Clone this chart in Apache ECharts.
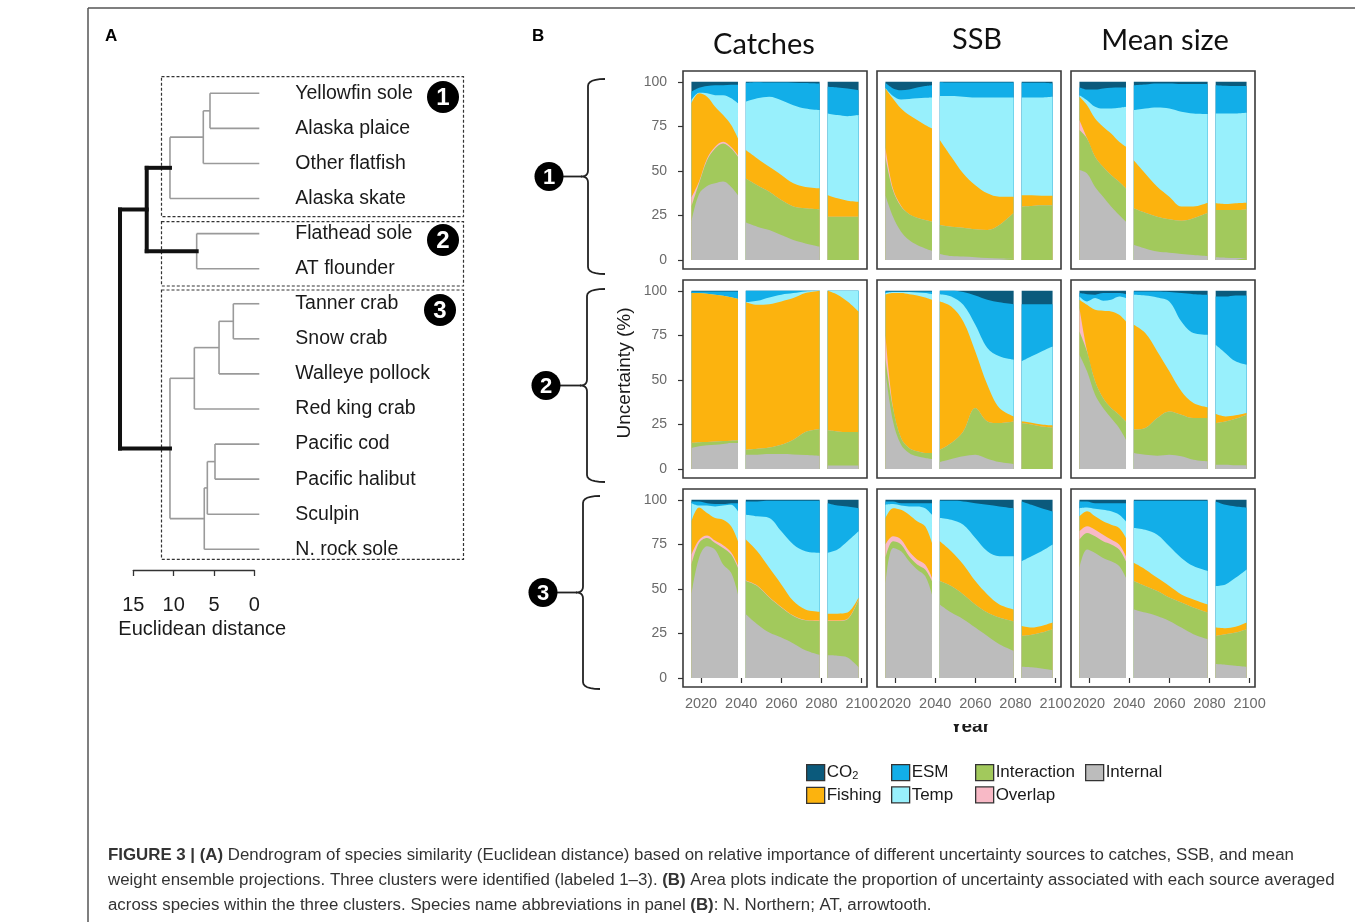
<!DOCTYPE html>
<html>
<head>
<meta charset="utf-8">
<script src="https://cdn.jsdelivr.net/npm/echarts@6/dist/echarts.min.js"></script>
<style>html,body{margin:0;padding:0;background:#fff}#c{width:1355px;height:922px}</style>
</head>
<body>
<div id="c"></div>
<script>
// ---------- DATA ----------
// x positions (years) of the sampled points; three projection periods
const YEARS = [2015.2, 2019, 2023, 2027, 2031, 2035, 2038.4, 2042.3, 2048, 2054, 2060, 2066, 2072, 2079.1, 2083.1, 2088, 2093, 2098.5];
const SEGMENTS = [[0, 7], [7, 14], [14, 18]];
const TOTAL = [100,100,100,100,100,100,100,100,100,100,100,100,100,100,100,100,100,100];

// Upper edge (cumulative %) of each uncertainty band
// Cluster 1 – Catches
const CATCH1_INTERNAL    = [21.5, 37, 41.5, 43, 44, 41, 36.4, 21, 18.7, 16.8, 14, 11.2, 9.3, 7.5, 0, 0, 0, 0];
const CATCH1_INTERACTION = [30, 43, 56, 62.6, 65.4, 62.6, 58, 45.8, 42, 38.3, 33.6, 30, 29, 28.4, 24.3, 24.3, 24.3, 24.3];
const CATCH1_OVERLAP     = [35, 44, 57, 63.6, 66.4, 63.4, 58.8, 45.8, 42, 38.3, 33.6, 30, 29, 28.4, 24.3, 24.3, 24.3, 24.3];
const CATCH1_FISHING     = [87.9, 93.5, 91.6, 86, 81.3, 75.7, 68.2, 61.7, 57, 52.3, 47.7, 43, 41, 40.2, 36.4, 34.6, 33.3, 32.7];
const CATCH1_TEMP        = [89.7, 93.8, 93.5, 92.5, 92.5, 90.7, 87.9, 88.8, 90.7, 91.6, 89.7, 86.9, 85, 84.1, 82.2, 81.3, 80.7, 81.3];
const CATCH1_ESM         = [94.4, 96.6, 97.6, 98, 98.1, 98.3, 98.3, 99.4, 99.8, 99.6, 99.6, 99.5, 99.3, 99, 97.2, 96.8, 96.3, 95.3];
// Cluster 1 – SSB
const SSB1_INTERNAL    = [36.4, 24.3, 15.9, 11.2, 8.4, 6.5, 5.2, 3.4, 2.2, 1.9, 1.5, 1.1, 0.9, 0.7, 0, 0, 0, 0];
const SSB1_INTERACTION = [58, 39, 30, 25.8, 23.7, 22.4, 21.5, 19.6, 18.7, 18.1, 17.2, 16.8, 19.6, 26.5, 30, 30.3, 30.7, 30.7];
const SSB1_OVERLAP     = [63, 40, 30.5, 25.8, 23.7, 22.4, 21.5, 19.6, 18.7, 18.1, 17.2, 16.8, 19.6, 26.5, 30, 30.3, 30.7, 30.7];
const SSB1_FISHING     = [96.3, 90.5, 85, 81.3, 78.5, 75.7, 73.8, 67.3, 58, 48.6, 42, 37.4, 35.5, 35.5, 36.4, 36.3, 36.1, 36.1];
const SSB1_TEMP        = [96.5, 92, 90, 90.3, 90.7, 91, 91.2, 92, 92, 91.6, 91.2, 91.2, 91.2, 91.2, 91.2, 91.2, 91.2, 91.6];
const SSB1_ESM         = [99.4, 96.3, 95.3, 95.7, 96.8, 97.6, 98.1, 99.8, 99.6, 99.6, 99.6, 99.6, 99.6, 99.6, 99.4, 99.4, 99.4, 99];
// Cluster 1 – Mean size
const MEAN1_INTERNAL    = [50.5, 48.6, 41, 35.5, 30, 25.2, 21.5, 8.4, 6.5, 4.7, 4.1, 3.4, 2.8, 2.2, 1.5, 1.3, 1.1, 1.1];
const MEAN1_INTERACTION = [72.9, 68.2, 58, 52.3, 47.7, 43.9, 40.2, 29, 26.5, 24.3, 22.8, 22, 23.4, 26.5, 28, 28, 28, 28.4];
const MEAN1_OVERLAP     = [78.5, 68.4, 58, 52.3, 47.7, 43.9, 40.2, 29, 26.5, 24.3, 22.8, 22, 23.4, 26.5, 28, 28, 28, 28.4];
const MEAN1_FISHING     = [91.6, 86.9, 79.4, 74.8, 71, 66.4, 63.6, 56, 48.6, 41.1, 35.5, 30, 30, 32.1, 31.8, 31.4, 31.8, 32.1];
const MEAN1_TEMP        = [92.5, 89.7, 86, 85, 85, 85.4, 86, 84.1, 85, 85.6, 85, 83.2, 82.2, 81.9, 82.2, 82.2, 82.2, 82.6];
const MEAN1_ESM         = [96.8, 95.7, 95.7, 96.3, 96.6, 96.8, 96.8, 98.1, 98.5, 99, 99, 98.7, 98.7, 98.7, 98.1, 97.8, 97.6, 97.6];
// Cluster 2 – Catches
const CATCH2_INTERNAL    = [11.8, 12.7, 13.3, 13.6, 14, 14.6, 14.6, 8, 8, 8.4, 8.4, 8.2, 7.9, 7.5, 2, 1.9, 1.9, 1.9];
const CATCH2_INTERACTION = [14.6, 15, 15.1, 15.5, 15.7, 15.9, 16.1, 10.8, 11.4, 12.1, 13.6, 16.4, 20.7, 22.4, 21.7, 21.1, 20.7, 20.7];
const CATCH2_OVERLAP     = [14.6, 15, 15.1, 15.5, 15.7, 15.9, 16.1, 10.8, 11.4, 12.1, 13.6, 16.4, 20.7, 22.4, 21.7, 21.1, 20.7, 20.7];
const CATCH2_FISHING     = [98.7, 98.7, 98.3, 97.8, 97.2, 96.4, 95.5, 93.6, 92.1, 92.5, 94, 95.9, 98.7, 100, 100, 97.8, 94, 88.4];
const CATCH2_TEMP        = [98.7, 98.7, 98.3, 97.8, 97.2, 96.4, 95.5, 93.6, 94.4, 96.3, 97.8, 98.7, 99.6, 100, 100, 100, 100, 100];
const CATCH2_ESM         = [99.6, 99.6, 99.6, 99.6, 99.6, 99.6, 99.6, 100, 100, 100, 100, 100, 100, 100, 100, 100, 100, 100];
// Cluster 2 – SSB
const SSB2_INTERNAL    = [54.8, 26.7, 13.6, 9, 7.1, 6.2, 5.6, 3.9, 5.6, 7.1, 8, 5.8, 3.9, 2.8, 0, 0, 0, 0];
const SSB2_INTERACTION = [62.2, 34.2, 17.4, 11.8, 9.9, 9, 9, 10.8, 14.6, 21.1, 34.2, 26.7, 25.8, 26.7, 25.8, 24.9, 23.9, 23.4];
const SSB2_OVERLAP     = [75, 34.5, 17.4, 11.8, 9.9, 9, 9, 10.8, 14.6, 21.1, 34.2, 26.7, 25.8, 26.7, 25.8, 24.9, 23.9, 23.4];
const SSB2_FISHING     = [97.8, 98.7, 98.7, 98.1, 97.4, 96.3, 95, 94, 91.2, 82.8, 66, 47.3, 34.2, 29.5, 26.8, 25.9, 24.9, 24.4];
const SSB2_TEMP        = [98.7, 99.3, 99.3, 99.3, 99, 98.7, 98.1, 98.1, 96.8, 92.1, 80.9, 67.9, 63.2, 61.3, 60.4, 63.2, 66, 68.8];
const SSB2_ESM         = [99.6, 99.6, 99.6, 99.6, 99.6, 99.6, 99.6, 100, 100, 99.3, 97.4, 95, 93.6, 92.5, 92.5, 92.5, 92.5, 92.5];
// Cluster 2 – Mean size
const MEAN2_INTERNAL    = [64.1, 54.8, 41.7, 34.2, 28.6, 23, 16.4, 9, 8, 7.5, 8, 7.1, 5.2, 4.3, 2.4, 2.4, 2.1, 2.1];
const MEAN2_INTERACTION = [77.2, 66, 49.2, 39.8, 34.2, 30.5, 26.7, 22.1, 23, 28.6, 32.3, 30.5, 28.6, 28.6, 25.8, 26.7, 28.2, 30.5];
const MEAN2_OVERLAP     = [90.3, 66.3, 49.2, 39.8, 34.2, 30.5, 26.7, 22.1, 23, 28.6, 32.3, 30.5, 28.6, 28.6, 25.8, 26.7, 28.2, 30.5];
const MEAN2_FISHING     = [95, 92.1, 89.3, 88.8, 88.4, 86.5, 82.8, 80.9, 76.3, 66, 54.8, 43.6, 37, 34.6, 30.8, 29.5, 30.1, 31.4];
const MEAN2_TEMP        = [96.8, 94, 95.9, 94.4, 95, 96.8, 95.9, 97.8, 97.4, 96.3, 94, 82.8, 76.3, 75.3, 69.7, 65, 60.4, 58.5];
const MEAN2_ESM         = [98.7, 98.1, 97.8, 98.7, 98.7, 98.7, 98.1, 99.6, 99.6, 99.6, 99.3, 98.7, 98.1, 97.8, 96.8, 96.8, 97.4, 97.4];
// Cluster 3 – Catches
const CATCH3_INTERNAL    = [46.9, 67.4, 73.9, 72, 63.7, 59, 46.9, 35.8, 30.2, 25.5, 22.7, 19.4, 15.6, 13, 12.7, 12.5, 11.5, 6];
const CATCH3_INTERACTION = [63.7, 75.8, 78.6, 75.8, 73, 69.3, 61.8, 54.4, 51.6, 45.1, 39.5, 34.8, 32.4, 32, 32, 32, 33, 44.1];
const CATCH3_OVERLAP     = [69.3, 77.5, 80, 77.1, 74.5, 70.6, 63.2, 54.7, 51.9, 45.4, 39.8, 35, 32.6, 32.2, 32.2, 32.2, 33.2, 44.3];
const CATCH3_FISHING     = [87.9, 95.7, 92.6, 89.8, 88.8, 85.1, 76.7, 77.7, 71.1, 61.8, 52.5, 43.2, 38.5, 37.2, 36.1, 36.1, 36.7, 45.1];
const CATCH3_TEMP        = [98.1, 96.8, 96.8, 96.3, 96.8, 97.2, 93.5, 91.6, 90.7, 89.8, 82.3, 74.9, 71.1, 70.2, 70.2, 72.1, 76.7, 82.3];
const CATCH3_ESM         = [99.1, 99.1, 98.1, 97.6, 97.6, 98.1, 98.1, 99.1, 99.1, 99.4, 99.4, 99.4, 99.4, 99.4, 98.1, 96.8, 96.3, 95.3];
// Cluster 3 – SSB
const SSB3_INTERNAL    = [52.5, 73, 71.1, 65.5, 60.9, 57.2, 46.9, 41.3, 36.7, 33, 28.3, 23.6, 19, 15.3, 6.3, 6, 5.4, 4.5];
const SSB3_INTERACTION = [67.4, 76.7, 74.9, 68.3, 63.7, 60.9, 54.4, 54.4, 51.6, 46.9, 41.3, 36.7, 33.9, 31.7, 23.6, 24.2, 25.5, 27.4];
const SSB3_OVERLAP     = [74.9, 79.5, 77.7, 71.1, 66.5, 63.7, 56.3, 54.4, 51.6, 46.9, 41.3, 36.7, 33.9, 31.7, 23.6, 24.2, 25.5, 27.4];
const SSB3_FISHING     = [89.8, 95.3, 94.4, 91.6, 87.9, 85.1, 75.8, 76.7, 71.1, 63.7, 54.4, 46.9, 41.3, 38.5, 29.2, 28.3, 29.2, 31.1];
const SSB3_TEMP        = [97.2, 97.6, 96.8, 96.3, 96.3, 95.3, 91.6, 89.8, 88.8, 86, 78.6, 71.1, 68.3, 68.3, 65.5, 68.3, 71.1, 74.9];
const SSB3_ESM         = [99.1, 99.1, 98.1, 98.1, 98.1, 98.1, 98.1, 99.4, 99.4, 99.1, 98.1, 97.2, 96.3, 95.3, 99.1, 97.2, 95.3, 93.5];
// Cluster 3 – Mean size
const MEAN3_INTERNAL    = [61.8, 72.1, 70.2, 67.4, 65.5, 62.8, 56.2, 38.5, 36.7, 34.8, 32, 28.3, 24.6, 21.8, 7.8, 7.4, 6.9, 6.3];
const MEAN3_INTERACTION = [77.7, 81.4, 79.5, 76.7, 74.9, 72.1, 65.5, 54.4, 51.6, 48.8, 45.1, 42.3, 39.5, 36.7, 23.6, 24.6, 25.5, 27.4];
const MEAN3_OVERLAP     = [82.3, 85.1, 83.2, 80.4, 77.7, 74.9, 68.3, 54.4, 51.6, 48.8, 45.1, 42.3, 39.5, 36.7, 23.6, 24.6, 25.5, 27.4];
const MEAN3_FISHING     = [90.7, 93.5, 90.7, 87.9, 86, 84.2, 78.6, 64.6, 60.9, 56.2, 51.6, 46.9, 44.1, 41.3, 28.3, 27.9, 28.7, 31.1];
const MEAN3_TEMP        = [95.3, 95.7, 94.9, 94.4, 93.5, 91.6, 87.9, 84.2, 83.2, 80.4, 73.9, 67.4, 62.8, 60, 51.6, 52.5, 56.2, 60.9];
const MEAN3_ESM         = [99.1, 99.1, 98.1, 98.1, 98.1, 98.1, 98.1, 99.4, 99.4, 99.4, 99.4, 99.4, 99.4, 99.4, 99.1, 97.2, 96.3, 95.7];

const COLUMN_TITLES = ['Catches', 'SSB', 'Mean size'];
const X_TICKS = [2020, 2040, 2060, 2080, 2100];
const Y_TICKS = [0, 25, 50, 75, 100];

// Dendrogram (panel A)
const LEAVES = ['Yellowfin sole', 'Alaska plaice', 'Other flatfish', 'Alaska skate', 'Flathead sole', 'AT flounder',
  'Tanner crab', 'Snow crab', 'Walleye pollock', 'Red king crab', 'Pacific cod', 'Pacific halibut', 'Sculpin', 'N. rock sole'];
// merge k joins MERGE_A[k] and MERGE_B[k] (ids < 14 are leaves, id 14+k is merge k) at MERGE_HEIGHT[k]
const MERGE_A = [0, 14, 15, 4, 16, 6, 19, 20, 10, 22, 23, 21, 18];
const MERGE_B = [1, 2, 3, 5, 17, 7, 8, 9, 11, 12, 13, 24, 25];
const MERGE_HEIGHT = [6.11, 6.94, 11.07, 7.76, 13.95, 3.22, 4.99, 8.05, 5.49, 6.44, 6.82, 11.07, 17.26];
const THICK_NODES = [18, 26];

// ---------- BUILD ----------
const FONT = '"Liberation Sans", Arial, Helvetica, sans-serif';
const LAYERS = [
  { name: 'CO2', color: '#0b5a7c' },
  { name: 'ESM', color: '#12aee8' },
  { name: 'Temp', color: '#98f0fc' },
  { name: 'Fishing', color: '#fcb30e' },
  { name: 'Overlap', color: '#f8b9c6' },
  { name: 'Interaction', color: '#a2c95c' },
  { name: 'Internal', color: '#bcbcbc' }
];
const PANELS = [
  [TOTAL, CATCH1_ESM, CATCH1_TEMP, CATCH1_FISHING, CATCH1_OVERLAP, CATCH1_INTERACTION, CATCH1_INTERNAL],
  [TOTAL, SSB1_ESM, SSB1_TEMP, SSB1_FISHING, SSB1_OVERLAP, SSB1_INTERACTION, SSB1_INTERNAL],
  [TOTAL, MEAN1_ESM, MEAN1_TEMP, MEAN1_FISHING, MEAN1_OVERLAP, MEAN1_INTERACTION, MEAN1_INTERNAL],
  [TOTAL, CATCH2_ESM, CATCH2_TEMP, CATCH2_FISHING, CATCH2_OVERLAP, CATCH2_INTERACTION, CATCH2_INTERNAL],
  [TOTAL, SSB2_ESM, SSB2_TEMP, SSB2_FISHING, SSB2_OVERLAP, SSB2_INTERACTION, SSB2_INTERNAL],
  [TOTAL, MEAN2_ESM, MEAN2_TEMP, MEAN2_FISHING, MEAN2_OVERLAP, MEAN2_INTERACTION, MEAN2_INTERNAL],
  [TOTAL, CATCH3_ESM, CATCH3_TEMP, CATCH3_FISHING, CATCH3_OVERLAP, CATCH3_INTERACTION, CATCH3_INTERNAL],
  [TOTAL, SSB3_ESM, SSB3_TEMP, SSB3_FISHING, SSB3_OVERLAP, SSB3_INTERACTION, SSB3_INTERNAL],
  [TOTAL, MEAN3_ESM, MEAN3_TEMP, MEAN3_FISHING, MEAN3_OVERLAP, MEAN3_INTERACTION, MEAN3_INTERNAL]
];

function toData(values) {
  const out = [];
  SEGMENTS.forEach(function (s, k) {
    if (k > 0) out.push([(YEARS[s[0] - 1] + YEARS[s[0]]) / 2, '-']);
    for (let i = s[0]; i < s[1]; i++) out.push([YEARS[i], values[i]]);
  });
  return out;
}

const COL_LEFT = [683, 877, 1071];
const ROW_TOP = [71, 280, 489];
const PW = 184, PH = 198;

const grids = [], xAxes = [], yAxes = [], series = [];
for (let p = 0; p < 9; p++) {
  const r = Math.floor(p / 3), c = p % 3;
  grids.push({ left: COL_LEFT[c], top: ROW_TOP[r], width: PW, height: PH, show: true,
    borderColor: '#3a3a3a', borderWidth: 1.6, backgroundColor: '#fff', containLabel: false });
  const bottom = r === 2, left = c === 0;
  xAxes.push({ gridIndex: p, type: 'value', min: 2011, max: 2102.7,
    axisLine: { show: false }, splitLine: { show: false },
    axisTick: { show: bottom, length: 5, lineStyle: { color: '#333', width: 1.2 }, customValues: X_TICKS },
    axisLabel: { show: bottom, customValues: X_TICKS, color: '#6a6a6a', fontSize: 14.5, fontFamily: FONT, margin: 9,
      formatter: function (v) { return String(v); } } });
  yAxes.push({ gridIndex: p, type: 'value', min: -5.05, max: 106.05,
    axisLine: { show: false }, splitLine: { show: false },
    axisTick: { show: left, length: 5, lineStyle: { color: '#333', width: 1.2 }, customValues: Y_TICKS },
    axisLabel: { show: left, customValues: Y_TICKS, color: '#6a6a6a', fontSize: 14, fontFamily: FONT, margin: 16 } });
  LAYERS.forEach(function (L, li) {
    series.push({ type: 'line', name: L.name, xAxisIndex: p, yAxisIndex: p,
      data: toData(PANELS[p][li]), smooth: 0.35, symbol: 'none', connectNulls: false,
      color: L.color, lineStyle: { width: 0, color: L.color },
      areaStyle: { color: L.color, opacity: 1 }, silent: true, z: 2 });
  });
}

// dendrogram grid (index 9) and distance scale grid (index 10)
grids.push({ left: 97.9, top: 75.75, width: 161.4, height: 491.1 });
xAxes.push({ gridIndex: 9, type: 'value', min: 0, max: 20, inverse: true, show: false });
yAxes.push({ gridIndex: 9, type: 'category', data: LEAVES, inverse: true, position: 'right',
  axisLine: { show: false }, axisTick: { show: false }, splitLine: { show: false },
  axisLabel: { margin: 36, color: '#1a1a1a', fontSize: 19.5, fontFamily: FONT, align: 'left', padding: [5, 0, 0, 0] } });
grids.push({ left: 133.3, top: 560, width: 121, height: 10 });
xAxes.push({ gridIndex: 10, type: 'value', min: 0, max: 15, interval: 5, inverse: true, position: 'bottom',
  axisLine: { show: true, lineStyle: { color: '#333', width: 1.3 } },
  axisTick: { show: true, length: 6, lineStyle: { color: '#333', width: 1.3 } },
  axisLabel: { color: '#1a1a1a', fontSize: 20, fontFamily: FONT, margin: 25 },
  splitLine: { show: false },
  name: 'Euclidean distance', nameLocation: 'middle', nameGap: 49,
  nameTextStyle: { color: '#1a1a1a', fontSize: 20, fontFamily: FONT, padding: [0, 0, 0, 17] } });
yAxes.push({ gridIndex: 10, type: 'value', show: false, min: 0, max: 1 });

series.push({
  type: 'custom', coordinateSystem: 'cartesian2d', xAxisIndex: 9, yAxisIndex: 9, silent: true,
  data: [[0, 0]],
  renderItem: function (params, api) {
    const pos = {};
    for (let i = 0; i < LEAVES.length; i++) pos[i] = api.coord([0, i]);
    const thin = [], thick = [];
    for (let k = 0; k < MERGE_A.length; k++) {
      const a = pos[MERGE_A[k]], b = pos[MERGE_B[k]];
      const x = api.coord([MERGE_HEIGHT[k], 0])[0];
      const id = LEAVES.length + k;
      pos[id] = [x, (a[1] + b[1]) / 2];
      const bucket = THICK_NODES.indexOf(id) >= 0 ? thick : thin;
      bucket.push([a[0], a[1], x, a[1]], [b[0], b[1], x, b[1]], [x, a[1], x, b[1]]);
    }
    const mk = function (s, color, w) {
      return { type: 'line', shape: { x1: s[0], y1: s[1], x2: s[2], y2: s[3] },
        style: { stroke: color, lineWidth: w, lineCap: w > 2 ? 'square' : 'butt' } };
    };
    return { type: 'group', children: thin.map(s => mk(s, '#9a9a9a', 1.6)).concat(thick.map(s => mk(s, '#111', 4))) };
  }
});

// ---------- annotations ----------
const graphics = [];
graphics.push({ type: 'line', shape: { x1: 88, y1: 8, x2: 1355, y2: 8 }, style: { stroke: '#555', lineWidth: 1.5 } });
graphics.push({ type: 'line', shape: { x1: 88, y1: 8, x2: 88, y2: 922 }, style: { stroke: '#555', lineWidth: 1.5 } });
function txt(x, y, text, opts) {
  return Object.assign({ type: 'text', x: x, y: y, z: 50,
    style: Object.assign({ text: text, fontFamily: FONT, fontSize: 16, fill: '#1a1a1a',
      align: 'left', verticalAlign: 'middle', textAlign: 'left', textVerticalAlign: 'middle' }, opts || {}) });
}
graphics.push(txt(105, 36, 'A', { fontWeight: 'bold', fontSize: 17, fill: '#000' }));
graphics.push(txt(532, 36, 'B', { fontWeight: 'bold', fontSize: 17, fill: '#000' }));
// dashed cluster boxes
[[76.7, 216.7], [221.7, 286], [290, 559.3]].forEach(function (b) {
  graphics.push({ type: 'rect', shape: { x: 161.5, y: b[0], width: 302, height: b[1] - b[0] },
    style: { fill: 'none', stroke: '#333', lineWidth: 1.2, lineDash: [3, 2] } });
});
function badge(cx, cy, r, label, fs) {
  graphics.push({ type: 'circle', shape: { cx: cx, cy: cy, r: r }, style: { fill: '#000' }, z: 40 });
  graphics.push(txt(cx, cy + 1, label, { fill: '#fff', fontWeight: 'bold', fontSize: fs,
    align: 'center', textAlign: 'center' }));
}
badge(443, 97, 16, '1', 24);
badge(443, 240, 16, '2', 24);
badge(440, 310, 16, '3', 24);
// brackets in panel B (curly braces built from sampled quadratic curves)
function quad(p0, p1, p2) {
  const pts = [];
  for (let i = 0; i <= 6; i++) {
    const t = i / 6, u = 1 - t;
    pts.push([u * u * p0[0] + 2 * u * t * p1[0] + t * t * p2[0], u * u * p0[1] + 2 * u * t * p1[1] + t * t * p2[1]]);
  }
  return pts;
}
[[588, 79, 274, 605, 549], [587, 289, 482, 605, 546], [583, 496, 689, 600, 543]].forEach(function (b, i) {
  const x = b[0], t = b[1], bt = b[2], e = b[3], m = (t + bt) / 2;
  const pts = [].concat(
    quad([e, t], [x, t], [x, t + 7]),
    quad([x, m - 6], [x, m], [x - 7, m]),
    quad([x - 7, m], [x, m], [x, m + 6]),
    quad([x, bt - 7], [x, bt], [e, bt]));
  graphics.push({ type: 'polyline', shape: { points: pts }, style: { fill: 'none', stroke: '#222', lineWidth: 1.8 } });
  graphics.push({ type: 'line', shape: { x1: b[4] + 12, y1: m, x2: x - 6, y2: m }, style: { stroke: '#222', lineWidth: 1.8 } });
  badge(b[4], m, 14.5, String(i + 1), 22);
});
// y-axis title
graphics.push({ type: 'text', x: 625, y: 373, rotation: Math.PI / 2, z: 50,
  style: { text: 'Uncertainty (%)', fontFamily: FONT, fontSize: 19, fill: '#1a1a1a',
    align: 'center', verticalAlign: 'middle', textAlign: 'center', textVerticalAlign: 'middle' } });
// x-axis title (partly hidden in the source figure)
graphics.push(txt(970, 727, 'Year', { fontSize: 19, fontWeight: 'bold', align: 'center', textAlign: 'center' }));
graphics.push({ type: 'rect', z: 60, shape: { x: 940, y: 713, width: 60, height: 11 }, style: { fill: '#fff' } });
// caption
const CAP_FS = 16.85;
const capRich = { b: { fontWeight: 'bold', fontFamily: FONT, fontSize: CAP_FS, fill: '#333' } };
[
  '{b|FIGURE 3 | (A)} Dendrogram of species similarity (Euclidean distance) based on relative importance of different uncertainty sources to catches, SSB, and mean',
  'weight ensemble projections. Three clusters were identified (labeled 1–3). {b|(B)} Area plots indicate the proportion of uncertainty associated with each source averaged',
  'across species within the three clusters. Species name abbreviations in panel {b|(B)}: N. Northern; AT, arrowtooth.'
].forEach(function (line, i) {
  graphics.push({ type: 'text', x: 108, y: 855 + i * 25, z: 50,
    style: { text: line, rich: capRich, fontFamily: FONT, fontSize: CAP_FS, fill: '#333',
      align: 'left', verticalAlign: 'middle', textAlign: 'left', textVerticalAlign: 'middle' } });
});

// legend (4 columns)
const legendBase = {
  orient: 'vertical', top: 764, padding: 0, itemWidth: 18, itemHeight: 16, itemGap: 5, icon: 'rect',
  selectedMode: false,
  itemStyle: { borderColor: '#333', borderWidth: 1.3 },
  textStyle: { color: '#1a1a1a', fontSize: 17, fontFamily: FONT, padding: [0, 0, 0, -3],
    rich: { a: { fontSize: 17, fontFamily: FONT, color: '#1a1a1a', lineHeight: 18 },
            s: { fontSize: 11, fontFamily: FONT, color: '#1a1a1a', lineHeight: 18, verticalAlign: 'bottom' } } },
  formatter: function (n) { return n === 'CO2' ? '{a|CO}{s|2}' : n; }
};
const legends = [
  Object.assign({}, legendBase, { left: 806, data: ['CO2', 'Fishing'] }),
  Object.assign({}, legendBase, { left: 891, data: ['ESM', 'Temp'] }),
  Object.assign({}, legendBase, { left: 975, data: ['Interaction', 'Overlap'] }),
  Object.assign({}, legendBase, { left: 1085, data: ['Internal'] })
];

const titleCenters = [[764, 30], [977, 25], [1165, 26]];
const titles = COLUMN_TITLES.map(function (t, i) {
  return { text: t, left: titleCenters[i][0], top: titleCenters[i][1], textAlign: 'center', padding: 0,
    textStyle: { fontFamily: 'Lato, "Open Sans", sans-serif', fontSize: 29, fontWeight: 'normal', color: '#111' } };
});

const chart = echarts.init(document.getElementById('c'), null, { renderer: 'canvas' });
chart.setOption({
  animation: false,
  backgroundColor: '#fff',
  title: titles,
  legend: legends,
  grid: grids,
  xAxis: xAxes,
  yAxis: yAxes,
  series: series,
  graphic: { elements: graphics }
});
</script>
</body>
</html>
